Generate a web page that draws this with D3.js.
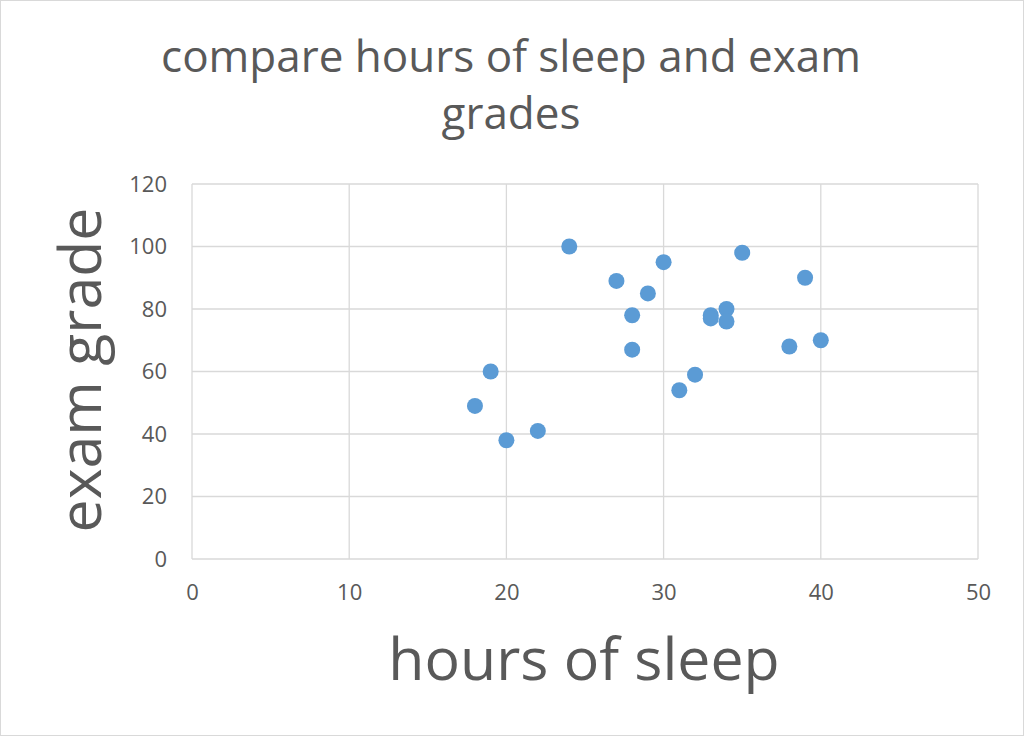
<!DOCTYPE html>
<html><head><meta charset="utf-8">
<script src="https://cdn.jsdelivr.net/npm/d3@7"></script>
<style>body{margin:0;background:#fff}svg{display:block}text{font-family:"Open Sans",sans-serif;fill:#595959}</style>
</head><body>
<svg id="c" width="1024" height="736"></svg>
<script>
const hours = [18,19,20,22,24,27,28,28,29,30,31,32,33,33,34,34,35,38,39,40];
const grades = [49,60,38,41,100,89,78,67,85,95,54,59,78,77,80,76,98,68,90,70];
const xTicks = [0,10,20,30,40,50];
const yTicks = [0,20,40,60,80,100,120];
const titleLines = ["compare hours of sleep and exam","grades"];

const svg = d3.select("#c");
svg.append("rect").attr("x",0.5).attr("y",0.5).attr("width",1023).attr("height",735).attr("fill","#fff").attr("stroke","#d9d9d9");
const x = d3.scaleLinear().domain([0,50]).range([192,978]);
const y = d3.scaleLinear().domain([0,120]).range([559,184]);

const g = svg.append("g");
g.selectAll(".vg").data(xTicks).join("line").attr("x1",d=>x(d)).attr("x2",d=>x(d)).attr("y1",y(0)).attr("y2",y(120)).attr("stroke","#d9d9d9").attr("stroke-width",1.3);
g.selectAll(".hg").data(yTicks).join("line").attr("y1",d=>y(d)).attr("y2",d=>y(d)).attr("x1",x(0)).attr("x2",x(50)).attr("stroke","#d9d9d9").attr("stroke-width",1.3);

const xa = svg.append("g").attr("transform",`translate(0,${y(0)})`).call(d3.axisBottom(x).tickValues(xTicks).tickSize(0).tickPadding(25));
xa.select(".domain").remove();
xa.selectAll("text").style("font-size","22px").attr("fill","#595959");
const ya = svg.append("g").attr("transform",`translate(${x(0)},0)`).call(d3.axisLeft(y).tickValues(yTicks).tickSize(0).tickPadding(25));
ya.select(".domain").remove();
ya.selectAll("text").style("font-size","22px").attr("fill","#595959");

svg.append("g").selectAll("circle").data(hours.map((h,i)=>[h,grades[i]])).join("circle")
  .attr("cx",d=>x(d[0])).attr("cy",d=>y(d[1])).attr("r",8).attr("fill","#5B9BD5");

svg.selectAll(".t").data(titleLines).join("text").attr("x",511).attr("y",(d,i)=>72+i*57).attr("text-anchor","middle").style("font-size","44px").text(d=>d);
svg.append("text").attr("x",584).attr("y",680).attr("text-anchor","middle").style("font-size","59px").text("hours of sleep");
svg.append("text").attr("transform","translate(101,370) rotate(-90)").attr("text-anchor","middle").style("font-size","59px").text("exam grade");
</script>
</body></html>
